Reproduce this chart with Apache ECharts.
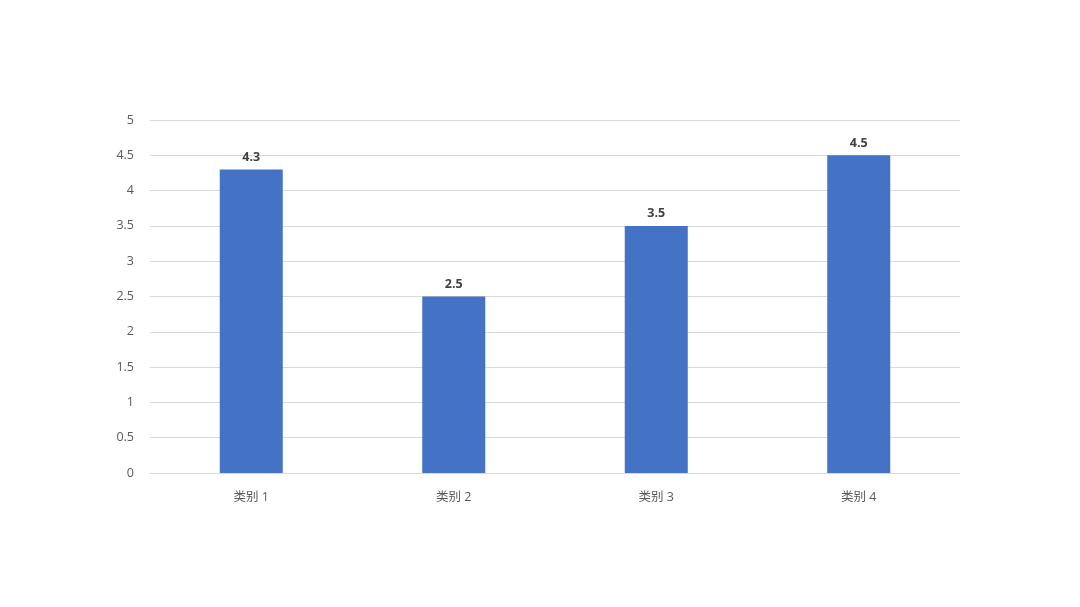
<!DOCTYPE html>
<html><head><meta charset="utf-8">
<script src="https://cdn.jsdelivr.net/npm/echarts@6/dist/echarts.min.js"></script>
<style>html,body{margin:0;padding:0;background:#fff}#c{width:1080px;height:607px}</style>
</head><body><div id="c"></div>
<script>
const categories = ['类别 1', '类别 2', '类别 3', '类别 4'];
const values = [4.3, 2.5, 3.5, 4.5];
const chart = echarts.init(document.getElementById('c'), null, {renderer: 'canvas'});
const font = '"Open Sans", "Noto Sans CJK SC", sans-serif';
chart.setOption({
  animation: false,
  backgroundColor: '#ffffff',
  grid: {left: 150, right: 120, top: 120, bottom: 134, containLabel: false},
  xAxis: {
    type: 'category', data: categories,
    axisLine: {lineStyle: {color: '#d9d9d9'}},
    axisTick: {show: false},
    axisLabel: {color: '#595959', fontSize: 12.5, fontFamily: font, margin: 18}
  },
  yAxis: {
    type: 'value', min: 0, max: 5, interval: 0.5,
    axisLine: {show: false}, axisTick: {show: false},
    splitLine: {lineStyle: {color: '#d9d9d9'}},
    axisLabel: {color: '#595959', fontSize: 12.5, fontFamily: font, margin: 16, padding: [3, 0, 0, 0]}
  },
  series: [{
    type: 'bar', data: values, barWidth: 63,
    itemStyle: {color: '#4472C4'},
    label: {show: true, position: 'top', color: '#404040', fontSize: 12.5, fontWeight: 'bold', fontFamily: font, distance: 6}
  }]
});
</script></body></html>
